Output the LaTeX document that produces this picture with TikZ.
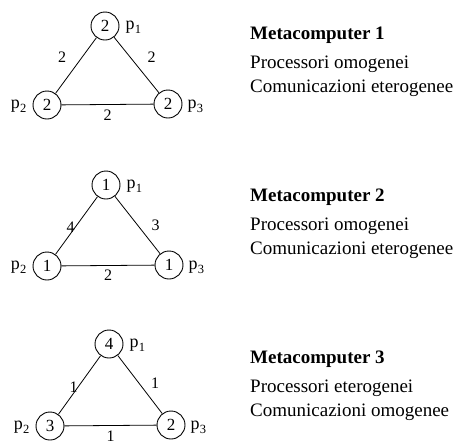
\documentclass[tikz,border=0pt]{standalone}
\usepackage{fontspec}
\setmainfont{Liberation Serif}
\usetikzlibrary{calc}
\newcommand\psub[1]{p\kern0.3pt\raisebox{-0.5ex}{\fontsize{12.5}{12.5}\selectfont #1}}
\tikzset{
  proc/.style={circle, draw, line width=0.9pt, minimum size=28pt, inner sep=0pt,
               font=\fontsize{17}{17}\selectfont},
  link/.style={line width=0.8pt},
  weight/.style={inner sep=0pt, font=\fontsize{16}{16}\selectfont},
  pname/.style={inner sep=0pt, font=\fontsize{18}{18}\selectfont},
  title/.style={anchor=base west, inner sep=0pt, font=\fontsize{19}{19}\selectfont\bfseries},
  desc/.style={anchor=base west, inner sep=0pt, font=\fontsize{19}{19}\selectfont}
}
\begin{document}
\begin{tikzpicture}[x=1pt, y=-1pt]
\useasboundingbox (0,0) rectangle (458,445);

% ---------- Metacomputer 1 ----------
\node[proc] (a1) at (105,26) {2};
\node[proc] (b1) at (47,105) {2};
\node[proc] (c1) at (168,104) {2};
\node[pname, anchor=west] (na1) at ($(a1.east)+(6,1)$) {\psub{1}};
\node[pname, anchor=east] (nb1) at ($(b1.west)+(-6,1)$) {\psub{2}};
\node[pname, anchor=west] (nc1) at ($(c1.east)+(5,2)$) {\psub{3}};
\draw[link] (a1) -- (b1);
\draw[link] (a1) -- (c1);
\draw[link] (b1) -- (c1);
\node[weight] (wab1) at ($(a1)!0.5!(b1)+(-14,-8)$) {2};
\node[weight] (wac1) at ($(a1)!0.5!(c1)+(15,-8)$) {2};
\node[weight] (wbc1) at ($(b1)!0.5!(c1)+(0,11)$) {2};
\node[title] (t1) at (250,39) {Metacomputer 1};
\node[desc] (d1a) at (250,68) {Processori omogenei};
\node[desc] (d1b) at (250,92) {Comunicazioni eterogenee};

% ---------- Metacomputer 2 ----------
\node[proc] (a2) at (106,185) {1};
\node[proc] (b2) at (47,266) {1};
\node[proc] (c2) at (169,265) {1};
\node[pname, anchor=west] (na2) at ($(a2.east)+(6,1)$) {\psub{1}};
\node[pname, anchor=east] (nb2) at ($(b2.west)+(-6,1)$) {\psub{2}};
\node[pname, anchor=west] (nc2) at ($(c2.east)+(5,2)$) {\psub{3}};
\draw[link] (a2) -- (b2);
\draw[link] (a2) -- (c2);
\draw[link] (b2) -- (c2);
\node[weight] (wab2) at ($(a2)!0.5!(b2)+(-6,2)$) {4};
\node[weight] (wac2) at ($(a2)!0.5!(c2)+(18,0)$) {3};
\node[weight] (wbc2) at ($(b2)!0.5!(c2)+(0,10)$) {2};
\node[title] (t2) at (250,201) {Metacomputer 2};
\node[desc] (d2a) at (250,230) {Processori omogenei};
\node[desc] (d2b) at (250,254) {Comunicazioni eterogenee};

% ---------- Metacomputer 3 ----------
\node[proc] (a3) at (109,344) {4};
\node[proc] (b3) at (50,426) {3};
\node[proc] (c3) at (171,425) {2};
\node[pname, anchor=west] (na3) at ($(a3.east)+(6,1)$) {\psub{1}};
\node[pname, anchor=east] (nb3) at ($(b3.west)+(-6,1)$) {\psub{2}};
\node[pname, anchor=west] (nc3) at ($(c3.east)+(5,2)$) {\psub{3}};
\draw[link] (a3) -- (b3);
\draw[link] (a3) -- (c3);
\draw[link] (b3) -- (c3);
\node[weight] (wab3) at ($(a3)!0.5!(b3)+(-6,2)$) {1};
\node[weight] (wac3) at ($(a3)!0.5!(c3)+(15,-1)$) {1};
\node[weight] (wbc3) at ($(b3)!0.5!(c3)+(0,11)$) {1};
\node[title] (t3) at (250,363) {Metacomputer 3};
\node[desc] (d3a) at (250,392) {Processori eterogenei};
\node[desc] (d3b) at (250,416) {Comunicazioni omogenee};
\end{tikzpicture}
\end{document}
